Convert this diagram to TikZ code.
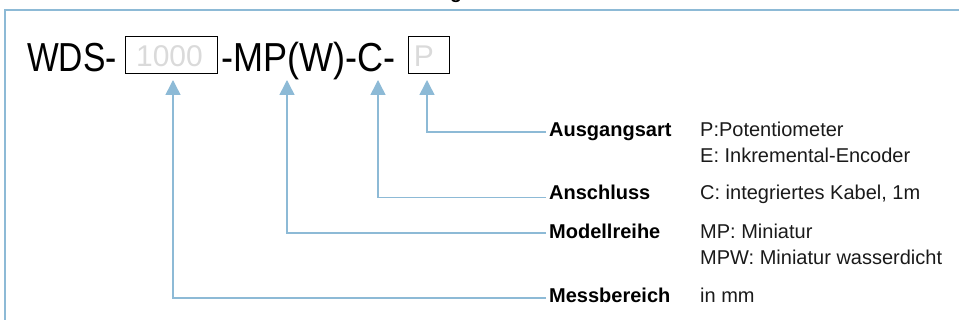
\documentclass[tikz,border=0pt]{standalone}
\usepackage{fontspec}
\setmainfont{Liberation Sans}
\usetikzlibrary{arrows.meta}
\definecolor{lineblue}{HTML}{8DBAD6}
\definecolor{boxgray}{HTML}{DADADA}
\definecolor{txtdark}{HTML}{1A1A1A}
\tikzset{
  conn/.style={draw=lineblue, line width=1.5pt, -{Triangle[length=15pt,width=15pt]}},
  frameline/.style={draw=lineblue, line width=2.2pt},
  bigtxt/.style={inner sep=0pt, anchor=base west, font=\fontsize{40.5}{44}\selectfont},
  codebox/.style={draw=black, line width=1.3pt, inner sep=0pt},
  graytxt/.style={inner sep=0pt, anchor=base, text=boxgray, font=\fontsize{30}{34}\selectfont},
  lbl/.style={inner sep=0pt, anchor=base west, font=\fontsize{20}{22}\selectfont\bfseries},
  desc/.style={inner sep=0pt, anchor=base west, text=txtdark, font=\fontsize{20}{22}\selectfont, align=left}
}
\begin{document}
\begin{tikzpicture}[x=1pt,y=-1pt]
\useasboundingbox (0,0) rectangle (959,320);
\clip (0,0) rectangle (959,320);
% frame (open to the right and bottom)
\draw[frameline] (5,330) -- (5,10) -- (970,10);
% cut-off title fragment
\node[inner sep=0pt, anchor=base, font=\fontsize{19.5}{22}\selectfont\bfseries] (title) at (456,-1) {g};
% code line
\node[bigtxt] (wds) at (27,72) {\scalebox{0.83}[1]{WDS-}};
\node[codebox, minimum width=92pt, minimum height=37pt, anchor=north west] (box1) at (125,36) {};
\node[graytxt] (n1000) at (169.5,67) {1000};
\node[bigtxt] (mid) at (221,72) {\scalebox{0.89}[1]{-MP(W)-C-}};
\node[codebox, minimum width=41pt, minimum height=37pt, anchor=north west] (box2) at (408,36) {};
\node[graytxt] (np) at (424,67) {P};
% arrow tips
\coordinate (tM) at (173,80);
\coordinate (tR) at (287,80);
\coordinate (tC) at (378,80);
\coordinate (tP) at (427,80);
% labels
\node[lbl] (lA) at (549,137) {Ausgangsart};
\node[lbl] (lC) at (549,200) {Anschluss};
\node[lbl] (lR) at (549,239) {Modellreihe};
\node[lbl] (lM) at (549,303) {Messbereich};
\node[desc] (dA1) at (700,137) {P:Potentiometer};
\node[desc] (dA2) at (700,163) {E: Inkremental-Encoder};
\node[desc] (dC) at (700,200) {C: integriertes Kabel, 1m};
\node[desc] (dR1) at (700,239) {MP: Miniatur};
\node[desc] (dR2) at (700,265) {MPW: Miniatur wasserdicht};
\node[desc] (dM) at (700,303) {in mm};
% line ends at labels
\coordinate (eA) at (546,132);
\coordinate (eC) at (546,197.5);
\coordinate (eR) at (546,233);
\coordinate (eM) at (546,298);
% connectors
\draw[conn] (eA) -| (tP);
\draw[conn] (eC) -| (tC);
\draw[conn] (eR) -| (tR);
\draw[conn] (eM) -| (tM);
\end{tikzpicture}
\end{document}
